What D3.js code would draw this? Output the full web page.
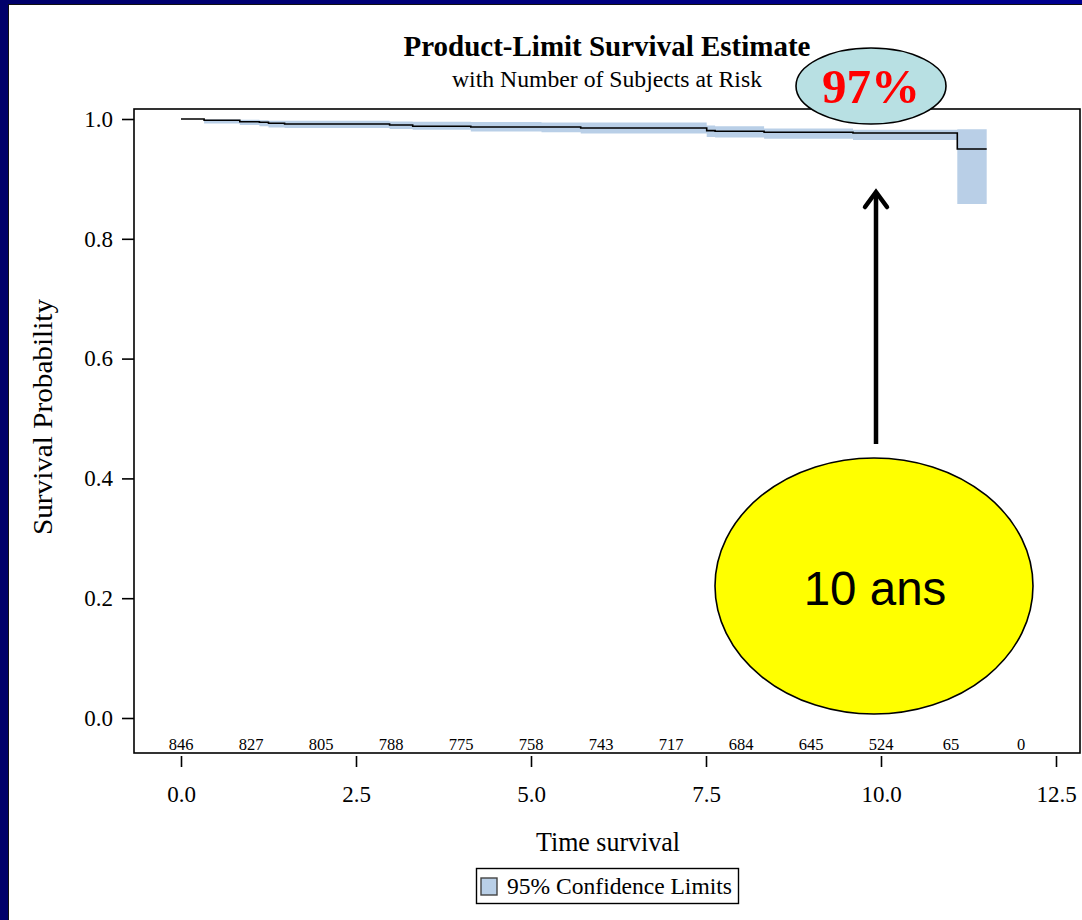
<!DOCTYPE html>
<html>
<head>
<meta charset="utf-8">
<script src="https://cdn.jsdelivr.net/npm/d3@7"></script>
<style>
  html, body { margin: 0; padding: 0; background: #000080; }
  svg { display: block; }
</style>
</head>
<body>
<svg id="chart" width="1082" height="920"></svg>
<script>
// Kaplan-Meier estimate: step times (years) and survival probability
const stepTimes = [0, 0.33, 0.84, 1.12, 1.25, 1.48, 2.98, 3.31, 4.14, 5.71, 7.51, 7.63, 8.33, 9.60, 11.09];
const survival  = [1.000, 0.998, 0.9955, 0.9945, 0.993, 0.9917, 0.990, 0.988, 0.9866, 0.985, 0.9806, 0.9796, 0.978, 0.9766, 0.950];
const lastTime = 11.51;

// 95% confidence limits
const bandTimes = [0.33, 0.84, 1.12, 1.25, 1.48, 2.98, 3.31, 4.14, 5.15, 5.71, 7.51, 7.63, 8.33, 9.60, 11.09];
const upperCL   = [0.999, 0.9987, 0.998, 0.997, 0.997, 0.996, 0.9955, 0.995, 0.994, 0.994, 0.989, 0.988, 0.984, 0.982, 0.983];
const lowerCL   = [0.9925, 0.990, 0.988, 0.9857, 0.985, 0.9833, 0.982, 0.979, 0.978, 0.976, 0.970, 0.969, 0.967, 0.965, 0.858];

// Number of subjects at risk, one per year
const riskTimes = [0, 1, 2, 3, 4, 5, 6, 7, 8, 9, 10, 11, 12];
const atRisk    = [846, 827, 805, 788, 775, 758, 743, 717, 684, 645, 524, 65, 0];

const xTicks = [0, 2.5, 5, 7.5, 10, 12.5];
const yTicks = [0, 0.2, 0.4, 0.6, 0.8, 1.0];

const highlightTime = 10;
const highlightLabel = "97%";
const calloutLabel = "10 ans";

const serif = "'Liberation Serif', 'Times New Roman', serif";
const sans = "'Liberation Sans', Arial, sans-serif";

const svg = d3.select("#chart");

// slide-style backdrop
const defs = svg.append("defs");
const grad = defs.append("linearGradient").attr("id", "bg").attr("x1", 0).attr("x2", 1).attr("y1", 0).attr("y2", 0);
grad.append("stop").attr("offset", "0").attr("stop-color", "#00006a");
grad.append("stop").attr("offset", "1").attr("stop-color", "#000090");
svg.append("rect").attr("width", 1082).attr("height", 920).attr("fill", "url(#bg)");
svg.append("rect").attr("x", 8.5).attr("y", 4.5).attr("width", 1080).attr("height", 920)
  .attr("fill", "#fff").attr("stroke", "#111").attr("stroke-width", 1);

const frame = { left: 134, top: 109, right: 1080, bottom: 753 };

const x = d3.scaleLinear().domain([0, 12.5]).range([181, 1056]);
const y = d3.scaleLinear().domain([0, 1]).range([718, 119]);

// titles
svg.append("text").attr("x", 607).attr("y", 56).attr("text-anchor", "middle")
  .attr("font-family", serif).attr("font-weight", "bold").attr("font-size", 29)
  .attr("textLength", 407).attr("lengthAdjust", "spacingAndGlyphs")
  .text("Product-Limit Survival Estimate");
svg.append("text").attr("x", 607).attr("y", 87).attr("text-anchor", "middle")
  .attr("font-family", serif).attr("font-size", 23)
  .attr("textLength", 310).attr("lengthAdjust", "spacingAndGlyphs")
  .text("with Number of Subjects at Risk");

// confidence band
const bandData = bandTimes.map((t, i) => ({ t, lo: lowerCL[i], hi: upperCL[i] }));
bandData.push({ t: lastTime, lo: lowerCL[lowerCL.length - 1], hi: upperCL[upperCL.length - 1] });
svg.append("path").datum(bandData)
  .attr("fill", "#b9cfe7")
  .attr("d", d3.area().curve(d3.curveStepAfter).x(d => x(d.t)).y0(d => y(d.lo)).y1(d => y(d.hi)));

// survival step curve
const curveData = stepTimes.map((t, i) => ({ t, s: survival[i] }));
curveData.push({ t: lastTime, s: survival[survival.length - 1] });
svg.append("path").datum(curveData)
  .attr("fill", "none").attr("stroke", "#000").attr("stroke-width", 1.6)
  .attr("d", d3.line().curve(d3.curveStepAfter).x(d => x(d.t)).y(d => y(d.s)));

// plot frame
svg.append("rect").attr("x", frame.left).attr("y", frame.top)
  .attr("width", frame.right - frame.left).attr("height", frame.bottom - frame.top)
  .attr("fill", "none").attr("stroke", "#000").attr("stroke-width", 1.6);

// y axis
const yAxis = svg.append("g").attr("transform", `translate(${frame.left},0)`)
  .call(d3.axisLeft(y).tickValues(yTicks).tickFormat(d3.format(".1f")).tickSize(12).tickPadding(9));
yAxis.select(".domain").remove();
yAxis.selectAll("line").attr("stroke", "#000").attr("stroke-width", 1.6);
yAxis.selectAll("text").attr("font-family", serif).attr("font-size", 23).attr("fill", "#000");

// x axis
const xAxis = svg.append("g").attr("transform", `translate(0,${frame.bottom + 3})`)
  .call(d3.axisBottom(x).tickValues(xTicks).tickFormat(d3.format(".1f")).tickSize(11).tickPadding(19));
xAxis.select(".domain").remove();
xAxis.selectAll("line").attr("stroke", "#000").attr("stroke-width", 1.6);
xAxis.selectAll("text").attr("font-family", serif).attr("font-size", 23).attr("fill", "#000");

// number at risk row
svg.append("g").selectAll("text").data(riskTimes).join("text")
  .attr("x", d => x(d)).attr("y", 750).attr("text-anchor", "middle")
  .attr("font-family", serif).attr("font-size", 16.5)
  .text((d, i) => atRisk[i]);

// axis labels
svg.append("text").attr("x", 608).attr("y", 851).attr("text-anchor", "middle")
  .attr("font-family", serif).attr("font-size", 26.5)
  .attr("textLength", 144).attr("lengthAdjust", "spacingAndGlyphs")
  .text("Time survival");
svg.append("text").attr("transform", "translate(52,417) rotate(-90)").attr("text-anchor", "middle")
  .attr("font-family", serif).attr("font-size", 27)
  .attr("textLength", 236).attr("lengthAdjust", "spacingAndGlyphs")
  .text("Survival Probability");

// legend
const legend = svg.append("g");
legend.append("rect").attr("x", 476.5).attr("y", 868.5).attr("width", 262).attr("height", 35)
  .attr("fill", "#fff").attr("stroke", "#000").attr("stroke-width", 1.4);
legend.append("rect").attr("x", 481).attr("y", 878).attr("width", 16).attr("height", 17)
  .attr("fill", "#b9cfe7").attr("stroke", "#444").attr("stroke-width", 1.4);
legend.append("text").attr("x", 507).attr("y", 894)
  .attr("font-family", serif).attr("font-size", 23)
  .attr("textLength", 225).attr("lengthAdjust", "spacingAndGlyphs")
  .text("95% Confidence Limits");

// annotations: value bubble, arrow and time callout
svg.append("ellipse").attr("cx", 871).attr("cy", 86).attr("rx", 75).attr("ry", 38)
  .attr("fill", "#b8e0e3").attr("stroke", "#000").attr("stroke-width", 1.6);
svg.append("text").attr("x", 871).attr("y", 103).attr("text-anchor", "middle")
  .attr("font-family", serif).attr("font-weight", "bold").attr("font-size", 49).attr("fill", "#ff0000")
  .text(highlightLabel);

const ax = x(highlightTime) - 5;
svg.append("line").attr("x1", ax).attr("x2", ax).attr("y1", 444).attr("y2", 194)
  .attr("stroke", "#000").attr("stroke-width", 4.5);
svg.append("path")
  .attr("d", `M${ax - 11},${207} L${ax},${192} L${ax + 11},${207}`)
  .attr("fill", "none").attr("stroke", "#000").attr("stroke-width", 4.5)
  .attr("stroke-linecap", "round").attr("stroke-linejoin", "miter");

svg.append("ellipse").attr("cx", 874).attr("cy", 586).attr("rx", 159).attr("ry", 128)
  .attr("fill", "#ffff00").attr("stroke", "#000").attr("stroke-width", 1.6);
svg.append("text").attr("x", 875).attr("y", 605).attr("text-anchor", "middle")
  .attr("font-family", sans).attr("font-size", 47.5).attr("fill", "#000")
  .text(calloutLabel);
</script>
</body>
</html>
